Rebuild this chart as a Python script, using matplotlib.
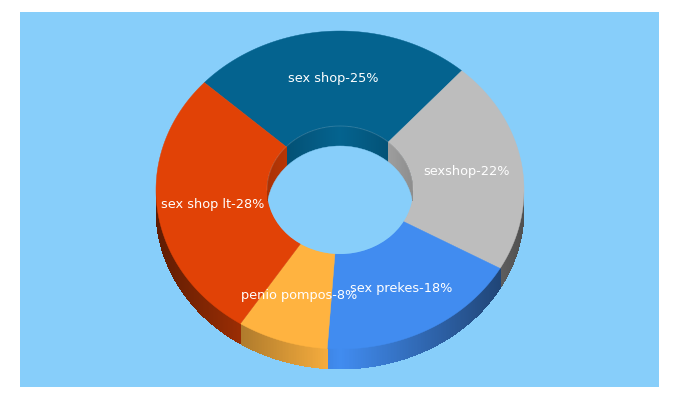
import numpy as np
import matplotlib
matplotlib.use("Agg")
from matplotlib import pyplot as plt
from matplotlib.collections import PolyCollection
from matplotlib.patches import Ellipse, Polygon

# slices, clockwise from the top left boundary
labels = ["sex shop-25%", "sexshop-22%", "sex prekes-18%", "penio pompos-8%", "sex shop lt-28%"]
values = [24.7, 21.7, 17.9, 8.0, 27.7]
colors = ["#04638f", "#bdbdbd", "#418cf0", "#ffb340", "#e14206"]

bg = "#87cefa"
cx, cy = 340, 190
rx, ry = 184, 159
irx, iry = 73, 64
depth = 20
start = -47.5


def pt(t, a, b, dy=0):
    # t in degrees, clockwise from the top
    r = np.radians(t)
    return np.column_stack([cx + a * np.sin(r), cy - b * np.cos(r) + dy])


def shade(color, d, k):
    rgb = np.array(matplotlib.colors.to_rgb(color))
    return tuple(rgb * (1 - k * abs(d)))


def wall(a0, a1, lim0, lim1, a, b, color, k, clip=None):
    # band of small quads between the top rim and the same rim moved down
    quads, cols = [], []
    for n in range(-1, 2):
        lo = max(a0 + 360 * n, lim0)
        hi = min(a1 + 360 * n, lim1)
        if hi <= lo:
            continue
        ts = np.linspace(lo, hi, int(hi - lo) * 2 + 2)
        for t0, t1 in zip(ts[:-1], ts[1:]):
            p = pt(np.array([t0, t1]), a, b)
            q = pt(np.array([t1, t0]), a, b, depth)
            quads.append(np.vstack([p, q]))
            cols.append(shade(color, np.sin(np.radians((t0 + t1) / 2)), k))
    if not quads:
        return
    # smooth pass for the outline, hard pass on top hides the seams
    for aa in (True, False):
        pc = PolyCollection(quads, facecolors=cols, edgecolors="none", linewidths=0, antialiaseds=aa)
        ax.add_collection(pc)
        if clip is not None:
            pc.set_clip_path(clip)


fig = plt.figure(figsize=(6.8, 4), dpi=100, facecolor="white")
ax = fig.add_axes([20 / 680, 13 / 400, 639 / 680, 375 / 400], facecolor=bg)
ax.set_xlim(20, 659)
ax.set_ylim(387, 12)
ax.axis("off")
ax.add_patch(plt.Rectangle((20, 12), 639, 375, color=bg, lw=0))

edges = start + np.cumsum([0] + values) * 3.6

# outer wall, front half only
for i, c in enumerate(colors):
    wall(edges[i], edges[i + 1], 90, 270, rx, ry, c, 0.58)

# top faces
for i, c in enumerate(colors):
    ts = np.linspace(edges[i], edges[i + 1], 200)
    poly = np.vstack([pt(ts, rx, ry), pt(ts[::-1], irx, iry)])
    ax.add_patch(Polygon(poly, closed=True, facecolor=c, edgecolor=c, lw=0.3))

# inner wall seen through the hole
clip = Ellipse((cx, cy), 2 * irx, 2 * iry, transform=ax.transData)
for i, c in enumerate(colors):
    wall(edges[i], edges[i + 1], -95, 95, irx, iry, c, 0.25, clip)

hole = Ellipse((cx, cy + depth), 2 * irx, 2 * iry, facecolor=bg, edgecolor=bg, lw=0.3)
ax.add_patch(hole)
hole.set_clip_path(clip)

# faint light rim on the back of the hole
rim = pt(np.linspace(-90, 90, 200), irx, iry)
ax.plot(rim[:, 0], rim[:, 1], color="white", alpha=0.15, lw=0.7)

# labels at 70% of the radius
for i, s in enumerate(labels):
    mid = (edges[i] + edges[i + 1]) / 2
    p = pt(np.array([mid]), rx * 0.7, ry * 0.7)[0]
    ax.text(p[0], p[1], s, color="white", fontsize=9.3, family="DejaVu Sans",
            ha="center", va="center")

fig.savefig("out.png", dpi=100, facecolor="white")
